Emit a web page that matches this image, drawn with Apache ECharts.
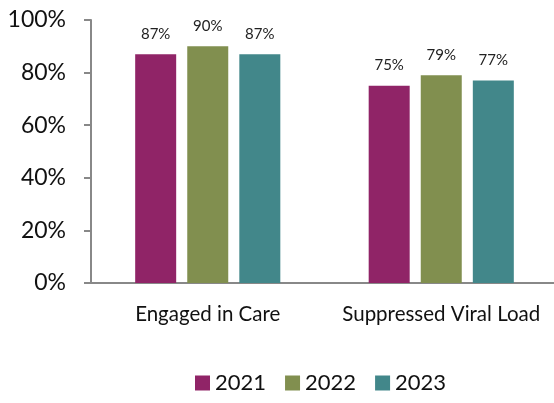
<!DOCTYPE html>
<html><head><meta charset="utf-8">
<script src="https://cdn.jsdelivr.net/npm/echarts@6/dist/echarts.min.js"></script>
<style>html,body{margin:0;padding:0;background:#fff}#c{width:554px;height:403px}</style>
</head><body><div id="c"></div>
<script>
const categories = ['Engaged in Care', 'Suppressed Viral Load'];
const years = ['2021', '2022', '2023'];
const v2021 = [87, 75];
const v2022 = [90, 79];
const v2023 = [87, 77];
const yTicks = [0, 20, 40, 60, 80, 100];
const colors = ['#902467', '#818F4F', '#42878A'];
const font = 'Lato, "Open Sans", sans-serif';
const chart = echarts.init(document.getElementById('c'));
const seriesData = [v2021, v2022, v2023];
chart.setOption({
  animation: false,
  color: colors,
  textStyle: { fontFamily: font },
  grid: { left: 91, width: 467, top: 20, bottom: 120, outerBoundsMode: 'none', containLabel: false },
  legend: {
    data: years, bottom: 4, left: 190,
    itemWidth: 15, itemHeight: 15, itemGap: 19, icon: 'rect',
    textStyle: { fontSize: 22, color: '#111', fontFamily: font }
  },
  xAxis: {
    type: 'category', data: categories,
    axisLine: { lineStyle: { color: '#888', width: 2 } },
    axisTick: { show: false },
    axisLabel: { fontSize: 20.5, color: '#111', margin: 21, fontFamily: font, interval: 0, overflow: 'none' }
  },
  yAxis: {
    type: 'value', min: 0, max: 100, interval: 20,
    axisLine: { show: true, lineStyle: { color: '#888', width: 2 } },
    axisTick: { show: true, length: 7, lineStyle: { color: '#888', width: 2 } },
    splitLine: { show: false },
    axisLabel: { fontSize: 23, color: '#111', margin: 25, fontFamily: font,
      formatter: v => yTicks.includes(v) ? v + '%' : '' }
  },
  series: years.map((y, i) => ({
    name: y, type: 'bar', data: seriesData[i],
    barWidth: 41, barGap: '27%',
    label: { show: true, position: 'top', distance: 13, fontSize: 15, color: '#222',
      fontFamily: font, formatter: p => p.value + '%' }
  }))
});
</script></body></html>
